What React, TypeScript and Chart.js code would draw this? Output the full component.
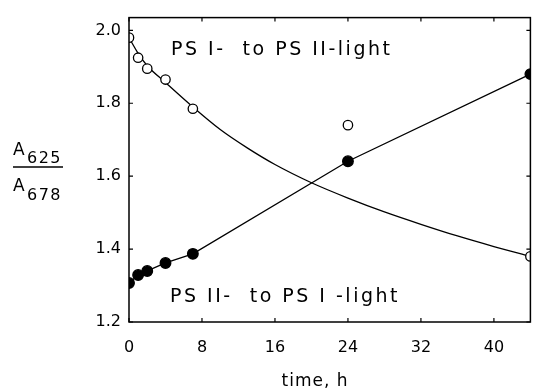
import React, { useEffect, useRef } from "react";
import { Chart, registerables } from "chart.js";

Chart.register(...registerables);

const hours = [0, 1, 2, 4, 7, 24, 44];
const ps1to2 = [1.98, 1.925, 1.895, 1.865, 1.785, 1.74, 1.38];
const ps2to1 = [1.307, 1.329, 1.34, 1.362, 1.387, 1.641, 1.88];
const fitHours = [0, 1, 2, 4, 7, 10, 13, 16, 20, 24, 28, 32, 36, 40, 44];
const fitPs1to2 = [1.98, 1.937, 1.903, 1.857, 1.79, 1.728, 1.677, 1.632, 1.582, 1.54, 1.502, 1.468, 1.436, 1.407, 1.38];
const xTicks = [0, 8, 16, 24, 32, 40];
const yTicks = [1.2, 1.4, 1.6, 1.8, 2.0];
const topLabel = "PS I-  to PS II-light";
const bottomLabel = "PS II-  to PS I -light";
const xTitle = "time, h";

const FONT = "DejaVu Sans";

const framePlugin = {
  id: "frame",
  afterDraw(chart: any) {
    const { ctx, chartArea: a, scales } = chart;
    const xs = scales.x;
    const ys = scales.y;
    ctx.save();
    ctx.strokeStyle = "#000";
    ctx.lineWidth = 1.5;
    ctx.strokeRect(a.left, a.top, a.right - a.left, a.bottom - a.top);
    ctx.lineWidth = 1.2;
    const tl = 4;
    xTicks.forEach((v) => {
      const px = xs.getPixelForValue(v);
      ctx.beginPath();
      ctx.moveTo(px, a.bottom);
      ctx.lineTo(px, a.bottom - tl);
      ctx.moveTo(px, a.top);
      ctx.lineTo(px, a.top + tl);
      ctx.stroke();
    });
    yTicks.forEach((v) => {
      const py = ys.getPixelForValue(v);
      ctx.beginPath();
      ctx.moveTo(a.left, py);
      ctx.lineTo(a.left + tl, py);
      ctx.moveTo(a.right, py);
      ctx.lineTo(a.right - tl, py);
      ctx.stroke();
    });

    ctx.fillStyle = "#000";
    ctx.textBaseline = "alphabetic";
    ctx.textAlign = "left";
    ctx.font = `19px "${FONT}"`;
    (ctx as any).letterSpacing = "2.5px";
    ctx.fillText(topLabel, 171, 55);
    ctx.fillText(bottomLabel, 170, 302);
    (ctx as any).letterSpacing = "1px";
    ctx.font = `17px "${FONT}"`;
    ctx.textAlign = "center";
    ctx.fillText(xTitle, 315, 386);

    // y-axis title as a fraction
    ctx.textAlign = "left";
    (ctx as any).letterSpacing = "0px";
    ctx.font = `17px "${FONT}"`;
    ctx.fillText("A", 13, 155);
    ctx.fillText("A", 13, 191);
    (ctx as any).letterSpacing = "1.5px";
    ctx.font = `16px "${FONT}"`;
    ctx.fillText("625", 27, 163);
    ctx.fillText("678", 27, 200);
    ctx.lineWidth = 1.3;
    ctx.beginPath();
    ctx.moveTo(13, 167);
    ctx.lineTo(63, 167);
    ctx.stroke();
    ctx.restore();
  },
};

export default function App() {
  const ref = useRef<HTMLCanvasElement>(null);
  useEffect(() => {
    if (!ref.current) return;
    const chart = new Chart(ref.current, {
      type: "scatter",
      data: {
        datasets: [
          {
            label: "PS II to PS I",
            data: hours.map((x, i) => ({ x, y: ps2to1[i] })),
            showLine: true,
            borderColor: "#000",
            borderWidth: 1.3,
            backgroundColor: "#000",
            pointRadius: 5.3,
            pointBorderColor: "#000",
            pointBackgroundColor: "#000",
            tension: 0,
            order: 2,
          },
          {
            label: "PS I to PS II",
            data: hours.map((x, i) => ({ x, y: ps1to2[i] })),
            showLine: false,
            pointRadius: 4.7,
            pointBorderWidth: 1.3,
            pointBorderColor: "#000",
            pointBackgroundColor: "#fff",
            order: 1,
          },
          {
            label: "fit",
            data: fitHours.map((x, i) => ({ x, y: fitPs1to2[i] })),
            showLine: true,
            borderColor: "#000",
            borderWidth: 1.3,
            pointRadius: 0,
            cubicInterpolationMode: "monotone",
            order: 3,
          },
        ],
      },
      options: {
        animation: false,
        responsive: false,
        maintainAspectRatio: false,
        layout: { padding: { left: 0, right: 4, top: 17, bottom: 0 } },
        plugins: {
          legend: { display: false },
          tooltip: { enabled: false },
        },
        scales: {
          x: {
            type: "linear",
            min: 0,
            max: 44,
            grid: { display: false, drawTicks: false },
            border: { display: false },
            afterBuildTicks: (s: any) => {
              s.ticks = xTicks.map((v) => ({ value: v }));
            },
            afterFit: (s: any) => {
              s.height = 68;
            },
            ticks: {
              color: "#000",
              padding: 16,
              font: { family: FONT, size: 16 },
              maxRotation: 0,
            },
          },
          y: {
            type: "linear",
            min: 1.2,
            max: 2.035,
            grid: { display: false, drawTicks: false },
            border: { display: false },
            afterBuildTicks: (s: any) => {
              s.ticks = yTicks.map((v) => ({ value: v }));
            },
            afterFit: (s: any) => {
              s.width = 129;
            },
            ticks: {
              color: "#000",
              padding: 8,
              font: { family: FONT, size: 16 },
              callback: (v: any) => Number(v).toFixed(1),
            },
          },
        },
      },
      plugins: [framePlugin],
    });
    return () => chart.destroy();
  }, []);
  return (
    <div style={{ position: "absolute", left: 0, top: 0, width: 537, height: 390, background: "#fff" }}>
      <canvas ref={ref} width={537} height={390} style={{ width: 537, height: 390 }} />
    </div>
  );
}
